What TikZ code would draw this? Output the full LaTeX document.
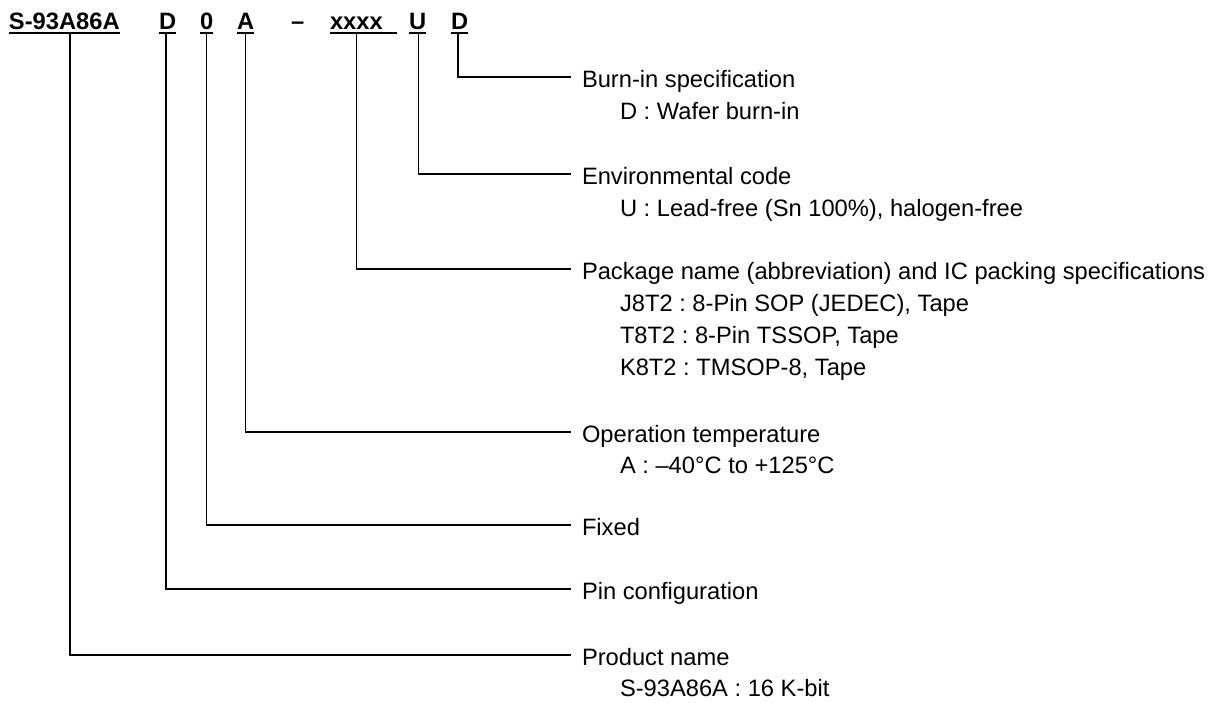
\documentclass[tikz,border=0pt]{standalone}
\usepackage{fontspec}
\setmainfont{Liberation Sans}
\frenchspacing
\begin{document}
\begin{tikzpicture}[x=1pt,y=-1pt,
  every node/.style={inner sep=0pt, outer sep=0pt, font=\fontsize{23.7}{32}\selectfont},
  hdr/.style={anchor=base west, font=\fontsize{23.7}{32}\selectfont\bfseries, text depth=4pt},
  ttl/.style={anchor=west, text height=20pt, text depth=0pt},
  sub/.style={anchor=base west},
  ul/.style={line width=2.2pt},
  conn/.style={line width=1.5pt}]
\useasboundingbox (0,0) rectangle (1224,702);
% header
\node[hdr] (pn) at (9,29) {S-93A86A};
\node[hdr] (pc) at (159,29) {D};
\node[hdr] (fx) at (200,29) {0};
\node[hdr] (op) at (237,29) {A};
\node[hdr] (dsh) at (291,29) {–};
\node[hdr] (pk) at (330,29) {xxxx};
\node[hdr] (env) at (409,29) {U};
\node[hdr] (bi) at (451,29) {D};
\foreach \n in {pn,pc,fx,op,env,bi}
  \draw[ul] (\n.south west) -- (\n.south east);
\draw[ul] (pk.south west) -- ([xshift=14pt]pk.south east);
% labels
\node[ttl] (tbi) at (582,77) {Burn-in specification};
\node[sub] (sbi) at (620,119) {D : Wafer burn-in};
\node[ttl] (tenv) at (582,174) {Environmental code};
\node[sub] (senv) at (620,216) {U : Lead-free (Sn 100\%), halogen-free};
\node[ttl] (tpk) at (582,269) {Package name (abbreviation) and IC packing specifications};
\node[sub] (spk1) at (620,311) {J8T2 : 8-Pin SOP (JEDEC), Tape};
\node[sub] (spk2) at (620,343) {T8T2 : 8-Pin TSSOP, Tape};
\node[sub] (spk3) at (620,375) {K8T2 : TMSOP-8, Tape};
\node[ttl] (top) at (582,432) {Operation temperature};
\node[sub] (sop) at (620,473) {A : –40°C to +125°C};
\node[ttl] (tfx) at (582,525) {Fixed};
\node[ttl] (tpc) at (582,589) {Pin configuration};
\node[ttl] (tpn) at (582,655) {Product name};
\node[sub] (spn) at (620,696) {S-93A86A : 16 K-bit};
% connectors
\draw[conn] ([xshift=5.5pt]pn.south) |- ([xshift=-11pt]tpn.west);
\draw[conn] ([xshift=-1.5pt]pc.south) |- ([xshift=-11pt]tpc.west);
\draw[conn] (fx.south) |- ([xshift=-11pt]tfx.west);
\draw[conn] (op.south) |- ([xshift=-11pt]top.west);
\draw[conn] (pk.south) |- ([xshift=-11pt]tpk.west);
\draw[conn] ([xshift=1pt]env.south) |- ([xshift=-11pt]tenv.west);
\draw[conn] ([xshift=-1.5pt]bi.south) |- ([xshift=-11pt]tbi.west);
\end{tikzpicture}
\end{document}
